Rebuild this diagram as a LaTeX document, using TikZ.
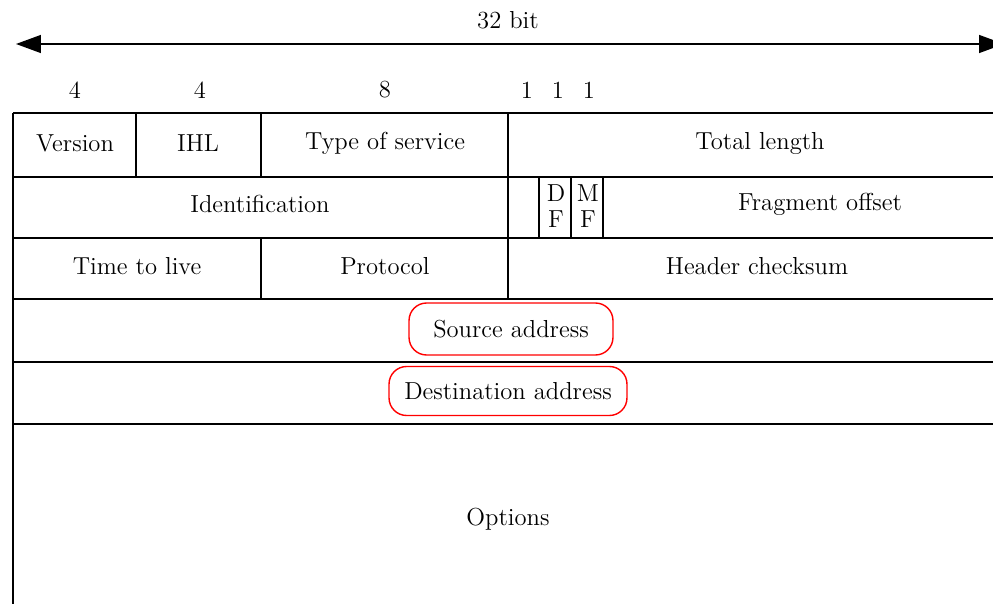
\documentclass[tikz,border=0pt]{standalone}
\usetikzlibrary{arrows.meta,positioning}

\begin{document}
\begin{tikzpicture}[x=0.02cm, y=-0.02cm, every node/.style={font=\fontsize{14}{13.8}\selectfont}]
\tikzset{rule/.style={line width=1pt},
  flag/.style={align=center, font=\fontsize{14}{14.8}\selectfont},
  hilite/.style={draw=red, line width=0.8pt, rounded corners=10pt, inner sep=0pt}}
\clip (0,0) rectangle (993,604);
% header width
\coordinate (lend) at (16,44);
\coordinate (rend) at (1004,44);
\draw[line width=0.8pt, {Triangle[length=5mm, width=3.6mm]}-{Triangle[length=5mm, width=3.6mm]}] (lend) -- (rend);
\node (width) at (508,20) {32 bit};
\node (n1) at (75,90) {4};
\node (n2) at (200,90) {4};
\node (n3) at (385,90) {8};
\node (n4) at (527,90) {1};
\node (n5) at (558,90) {1};
\node (n6) at (589,90) {1};
% grid
\foreach \y in {113,177,238,299,362,424}
  \draw[rule] (13,\y) -- (993,\y);
\draw[rule] (13,113) -- (13,604);
\draw[rule] (136,113) -- (136,177);
\draw[rule] (261,113) -- (261,177);
\draw[rule] (508,113) -- (508,299);
\foreach \x in {539,571,603}
  \draw[rule] (\x,177) -- (\x,238);
\draw[rule] (261,238) -- (261,299);
% fields
\node (version) at (75,143) {Version};
\node (ihl) at (198,143) {IHL};
\node (tos) at (385,143) {Type of service};
\node (total) at (760,143) {Total length};
\node (ident) at (260,204) {Identification};
\node[flag] (df) at (556,206) {D\\F};
\node[flag] (mf) at (588,206) {M\\F};
\node (frag) at (820,204) {Fragment offset};
\node (ttl) at (137,266) {Time to live};
\node (proto) at (385,266) {Protocol};
\node (check) at (757,266) {Header checksum};
\node[hilite, minimum width=4.08cm, minimum height=1.04cm] (src) at (511,329) {Source address};
\node[hilite, minimum width=4.76cm, minimum height=0.98cm] (dst) at (508,391) {Destination address};
\node (opts) at (508,519) {Options};
\end{tikzpicture}
\end{document}
